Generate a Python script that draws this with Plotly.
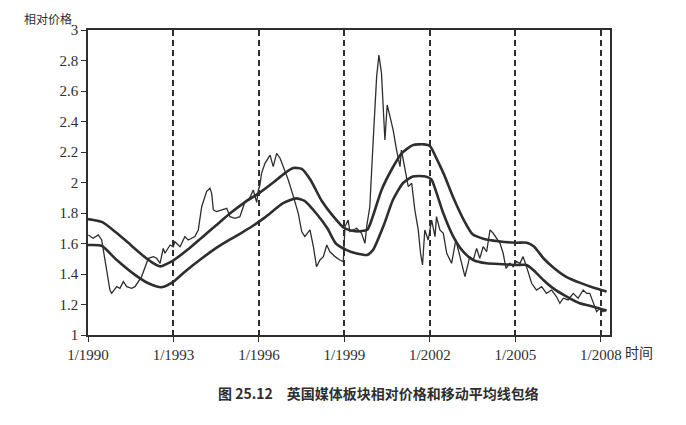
import plotly.graph_objects as go

# relative price (thin line), decimal years
price_t = [1990.01, 1990.18, 1990.36, 1990.48, 1990.77, 1990.83, 1991.01, 1991.12, 1991.24, 1991.36,
           1991.53, 1991.65, 1991.88, 1992.12, 1992.29, 1992.41, 1992.53, 1992.64, 1992.70, 1992.88,
           1992.99, 1993.05, 1993.23, 1993.40, 1993.52, 1993.75, 1993.87, 1993.99, 1994.16, 1994.28,
           1994.34, 1994.40, 1994.51, 1994.69, 1994.87, 1994.98, 1995.16, 1995.33, 1995.51, 1995.68,
           1995.80, 1995.92, 1995.98, 1996.03, 1996.09, 1996.21, 1996.39, 1996.50, 1996.62, 1996.74,
           1996.85, 1997.03, 1997.21, 1997.38, 1997.50, 1997.61, 1997.79, 1997.91, 1998.02, 1998.14,
           1998.26, 1998.38, 1998.49, 1998.67, 1998.84, 1998.96, 1999.02, 1999.13, 1999.19, 1999.43,
           1999.60, 1999.72, 1999.78, 1999.89, 2000.01, 2000.13, 2000.21, 2000.30, 2000.42, 2000.50,
           2000.60, 2000.71, 2000.83, 2000.95, 2001.00, 2001.12, 2001.24, 2001.36, 2001.47, 2001.59,
           2001.67, 2001.74, 2001.82, 2001.94, 2002.06, 2002.18, 2002.23, 2002.35, 2002.47, 2002.59,
           2002.76, 2002.91, 2003.05, 2003.23, 2003.40, 2003.52, 2003.64, 2003.75, 2003.87, 2003.99,
           2004.11, 2004.22, 2004.46, 2004.57, 2004.67, 2004.81, 2004.92, 2005.04, 2005.16, 2005.27,
           2005.39, 2005.57, 2005.74, 2005.92, 2006.09, 2006.27, 2006.44, 2006.56, 2006.68, 2006.85,
           2007.03, 2007.20, 2007.38, 2007.50, 2007.61, 2007.73, 2007.85, 2007.97, 2008.08, 2008.20]
price_v = [1.656, 1.634, 1.656, 1.623, 1.295, 1.273, 1.317, 1.306, 1.350, 1.317,
           1.306, 1.317, 1.383, 1.503, 1.514, 1.503, 1.470, 1.568, 1.536, 1.590,
           1.579, 1.612, 1.579, 1.645, 1.623, 1.645, 1.689, 1.841, 1.940, 1.962,
           1.929, 1.820, 1.809, 1.820, 1.831, 1.776, 1.765, 1.776, 1.874, 1.900,
           1.951, 1.870, 1.951, 1.980, 2.060, 2.126, 2.180, 2.104, 2.191, 2.159,
           2.104, 2.016, 1.907, 1.798, 1.678, 1.645, 1.689, 1.579, 1.448, 1.492,
           1.514, 1.590, 1.546, 1.514, 1.492, 1.480, 1.711, 1.754, 1.678, 1.700,
           1.667, 1.601, 1.711, 1.841, 2.279, 2.694, 2.836, 2.716, 2.279, 2.508,
           2.432, 2.344, 2.213, 2.104, 2.213, 2.082, 1.973, 1.995, 1.820, 1.689,
           1.536, 1.459, 1.689, 1.623, 1.754, 1.645, 1.776, 1.689, 1.667, 1.536,
           1.470, 1.623, 1.525, 1.383, 1.514, 1.492, 1.568, 1.503, 1.579, 1.546,
           1.689, 1.667, 1.601, 1.536, 1.437, 1.470, 1.448, 1.481, 1.470, 1.514,
           1.448, 1.339, 1.295, 1.317, 1.273, 1.295, 1.252, 1.208, 1.241, 1.230,
           1.273, 1.241, 1.295, 1.273, 1.273, 1.208, 1.153, 1.175, 1.153, 1.164]

# upper envelope
upper_t = [1990.0, 1990.5, 1991.0, 1991.5, 1992.0, 1992.3, 1992.55, 1992.8, 1993.0, 1993.5,
           1994.0, 1994.5, 1995.0, 1995.5, 1996.0, 1996.5, 1996.9, 1997.2, 1997.5, 1997.8,
           1998.2, 1998.6, 1999.0, 1999.4, 1999.8, 2000.0, 2000.3, 2000.7, 2001.0, 2001.4,
           2001.8, 2002.0, 2002.2, 2002.5, 2002.8, 2003.2, 2003.5, 2003.9, 2004.4, 2005.0,
           2005.4, 2005.65, 2006.0, 2006.35, 2006.8, 2007.3, 2007.75, 2008.2]
upper_v = [1.76, 1.74, 1.67, 1.59, 1.51, 1.47, 1.45, 1.47, 1.49, 1.56,
           1.64, 1.72, 1.80, 1.87, 1.93, 2.00, 2.06, 2.095, 2.09, 2.02,
           1.88, 1.78, 1.70, 1.68, 1.69, 1.78, 1.95, 2.10, 2.19, 2.245,
           2.25, 2.24, 2.17, 2.05, 1.91, 1.75, 1.66, 1.63, 1.615, 1.605,
           1.605, 1.58, 1.50, 1.44, 1.38, 1.34, 1.31, 1.285]

# lower envelope
lower_t = [1990.0, 1990.48, 1991.0, 1991.65, 1992.12, 1992.58, 1993.0, 1993.4, 1994.0, 1994.57,
           1995.16, 1995.74, 1996.2, 1996.85, 1997.3, 1997.6, 1998.0, 1998.4, 1998.7, 1999.1,
           1999.4, 1999.8, 2000.0, 2000.4, 2000.7, 2001.05, 2001.4, 2001.85, 2002.05, 2002.2,
           2002.47, 2002.82, 2003.17, 2003.52, 2003.99, 2004.57, 2005.04, 2005.39, 2005.63, 2005.98,
           2006.33, 2006.8, 2007.26, 2007.73, 2008.2]
lower_v = [1.59, 1.585, 1.493, 1.394, 1.339, 1.313, 1.35, 1.415, 1.503, 1.579,
           1.645, 1.710, 1.77, 1.864, 1.896, 1.88, 1.80, 1.70, 1.60, 1.555,
           1.536, 1.525, 1.557, 1.73, 1.885, 1.995, 2.04, 2.04, 2.02, 1.95,
           1.798, 1.645, 1.546, 1.492, 1.47, 1.464, 1.459, 1.459, 1.426, 1.361,
           1.306, 1.252, 1.208, 1.186, 1.16]

tick_years = [1990, 1993, 1996, 1999, 2002, 2005, 2008]
tick_labels = ["1/1990", "1/1993", "1/1996", "1/1999", "1/2002", "1/2005", "1/2008"]
y_ticks = [1, 1.2, 1.4, 1.6, 1.8, 2, 2.2, 2.4, 2.6, 2.8, 3]

ink = "#2e2e2e"
serif = "Liberation Serif"
cjk = "Noto Sans CJK SC"

fig = go.Figure()
fig.add_trace(go.Scatter(x=price_t, y=price_v, mode="lines",
                         line=dict(color=ink, width=1.3), name="相对价格"))
fig.add_trace(go.Scatter(x=upper_t, y=upper_v, mode="lines",
                         line=dict(color=ink, width=2.6, shape="spline", smoothing=0.6), name="上轨"))
fig.add_trace(go.Scatter(x=lower_t, y=lower_v, mode="lines",
                         line=dict(color=ink, width=2.6, shape="spline", smoothing=0.6), name="下轨"))

# page has an 8px body margin, so the figure is a bit smaller than the window
fig.update_layout(
    width=678, height=417,
    margin=dict(l=80, r=76, t=22, b=90),
    paper_bgcolor="white", plot_bgcolor="white",
    showlegend=False,
    font=dict(family=serif, size=15, color=ink),
)
fig.update_xaxes(
    range=[1990, 2008.32],
    tickvals=tick_years, ticktext=tick_labels,
    ticks="outside", ticklen=5, tickcolor=ink,
    showline=True, linecolor=ink, linewidth=1.5, mirror=True,
    showgrid=True, gridcolor=ink, gridwidth=1.5, griddash="6px,4px",
    zeroline=False,
    tickfont=dict(family=serif, size=15, color=ink),
)
fig.update_yaxes(
    range=[1, 3],
    tickvals=y_ticks, ticktext=[f"{v:g}" for v in y_ticks],
    ticks="outside", ticklen=5, tickcolor=ink,
    showline=True, linecolor=ink, linewidth=1.5, mirror=True,
    showgrid=False, zeroline=False,
    tickfont=dict(family=serif, size=15, color=ink),
)

fig.add_annotation(text="相对价格", xref="paper", yref="paper", x=-0.126, y=1.039,
                   xanchor="left", yanchor="middle", showarrow=False,
                   font=dict(family=cjk, size=12, color=ink))
fig.add_annotation(text="时间", xref="paper", yref="paper", x=1.025, y=-0.056,
                   xanchor="left", yanchor="middle", showarrow=False,
                   font=dict(family=cjk, size=14, color=ink))
fig.add_annotation(text="<b>图 25.12　英国媒体板块相对价格和移动平均线包络</b>",
                   xref="paper", yref="paper", x=0.557, y=-0.19,
                   xanchor="center", yanchor="middle", showarrow=False,
                   font=dict(family=cjk, size=14, color=ink))

fig.write_html("out.html")
